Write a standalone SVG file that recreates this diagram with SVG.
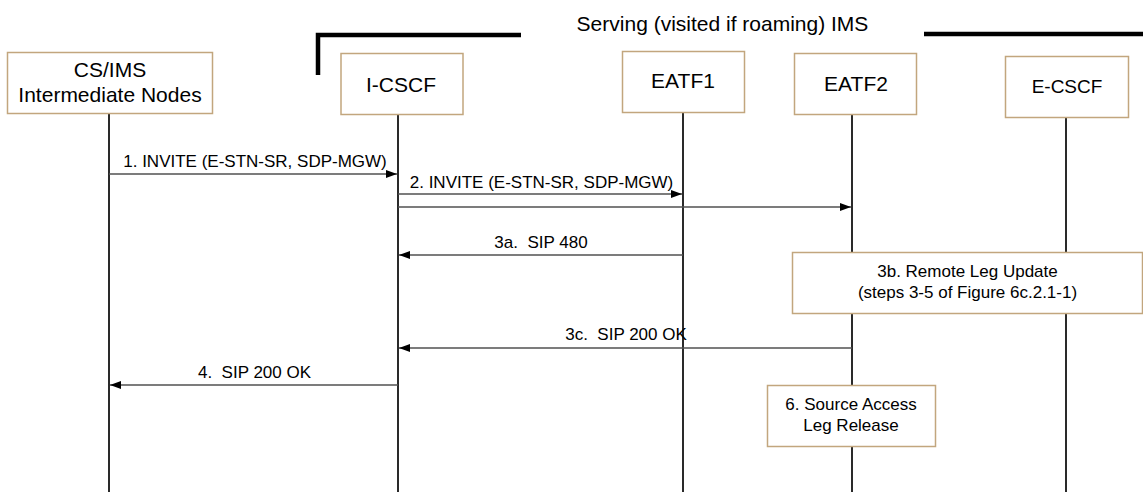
<svg xmlns="http://www.w3.org/2000/svg" width="1143" height="492" viewBox="0 0 1143 492">
<style>
text { font-family: "Liberation Sans", Arial, sans-serif; fill: #000; }
.node { fill: #fff; stroke: #c2a67e; stroke-width: 1.5; }
.nt { font-size: 21px; text-anchor: middle; }
.lbl { font-size: 17px; text-anchor: middle; }
.life { stroke: #2a2a2a; stroke-width: 2; }
.msg { stroke: #505050; stroke-width: 1.3; fill: none; marker-end: url(#ah); }
.bracket { stroke: #000; stroke-width: 4.5; fill: none; }
</style>
<defs>
<marker id="ah" markerWidth="11" markerHeight="8" refX="11" refY="4" orient="auto" markerUnits="userSpaceOnUse">
<path d="M0,0 L11,4 L0,8 z" fill="#000"/>
</marker>
</defs>
<rect width="1143" height="492" fill="#fff"/>

<g id="domain">
<path class="bracket" d="M318,75 V35 H521"/>
<path class="bracket" d="M924,34 H1143"/>
<text x="722.5" y="31" style="font-size:21px;text-anchor:middle">Serving (visited if roaming) IMS</text>
</g>

<g id="lifelines">
<line class="life" x1="109" y1="113" x2="109" y2="492"/>
<line class="life" x1="398" y1="114" x2="398" y2="492"/>
<line class="life" x1="683" y1="112" x2="683" y2="492"/>
<line class="life" x1="852" y1="114" x2="852" y2="492"/>
<line class="life" x1="1066" y1="117" x2="1066" y2="492"/>
</g>

<g id="node-cs-ims">
<rect class="node" x="7.5" y="52.5" width="205" height="61"/>
<text class="nt" x="110" y="77">CS/IMS</text>
<text class="nt" x="110" y="102">Intermediate Nodes</text>
</g>
<g id="node-i-cscf">
<rect class="node" x="341" y="53.5" width="122" height="61"/>
<text class="nt" x="401" y="92">I-CSCF</text>
</g>
<g id="node-eatf1">
<rect class="node" x="622.5" y="51.5" width="122" height="61"/>
<text class="nt" x="683" y="88">EATF1</text>
</g>
<g id="node-eatf2">
<rect class="node" x="794.5" y="53.5" width="122" height="61"/>
<text class="nt" x="856" y="91">EATF2</text>
</g>
<g id="node-e-cscf">
<rect class="node" x="1005.5" y="56.5" width="123" height="61"/>
<text class="nt" x="1067" y="93" style="font-size:19px">E-CSCF</text>
</g>

<g id="connectors">
<line class="msg" x1="109" y1="174" x2="397" y2="174"/>
<text class="lbl" x="255" y="167">1. INVITE (E-STN-SR, SDP-MGW)</text>
<line class="msg" x1="398" y1="194" x2="682" y2="194"/>
<text class="lbl" x="541.5" y="188">2. INVITE (E-STN-SR, SDP-MGW)</text>
<line class="msg" x1="398" y1="207" x2="851" y2="207"/>
<line class="msg" x1="683" y1="255" x2="399" y2="255"/>
<text class="lbl" x="541" y="248" xml:space="preserve">3a.  SIP 480</text>
<line class="msg" x1="852" y1="348" x2="399" y2="348"/>
<text class="lbl" x="626" y="340" xml:space="preserve">3c.  SIP 200 OK</text>
<line class="msg" x1="398" y1="385" x2="110" y2="385"/>
<text class="lbl" x="254.5" y="378" xml:space="preserve">4.  SIP 200 OK</text>
</g>

<g id="node-3b">
<rect class="node" x="792.5" y="252.5" width="350" height="61"/>
<text class="lbl" x="967.5" y="277">3b. Remote Leg Update</text>
<text class="lbl" x="967.5" y="298">(steps 3-5 of Figure 6c.2.1-1)</text>
</g>
<g id="node-6">
<rect class="node" x="767.5" y="385.5" width="168" height="61"/>
<text class="lbl" x="851" y="410">6. Source Access</text>
<text class="lbl" x="851" y="431">Leg Release</text>
</g>
</svg>
